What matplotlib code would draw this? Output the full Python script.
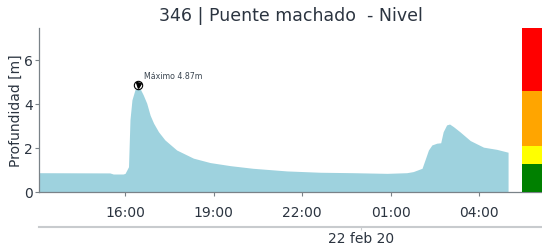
import matplotlib
matplotlib.use('Agg')
import matplotlib.pyplot as plt
import matplotlib.dates as mdates
import pandas as pd

# datos (nivel en metros)
horas = [
    "2020-02-21 13:05", "2020-02-21 15:29", "2020-02-21 15:36", "2020-02-21 15:56",
    "2020-02-21 16:00", "2020-02-21 16:07", "2020-02-21 16:10", "2020-02-21 16:14",
    "2020-02-21 16:20", "2020-02-21 16:27", "2020-02-21 16:37", "2020-02-21 16:44",
    "2020-02-21 16:51", "2020-02-21 16:58", "2020-02-21 17:08", "2020-02-21 17:21",
    "2020-02-21 17:45", "2020-02-21 18:19", "2020-02-21 18:53", "2020-02-21 19:34",
    "2020-02-21 20:20", "2020-02-21 21:29", "2020-02-21 22:37", "2020-02-21 23:44",
    "2020-02-22 00:53", "2020-02-22 01:33", "2020-02-22 01:46", "2020-02-22 02:04",
    "2020-02-22 02:10", "2020-02-22 02:17", "2020-02-22 02:24", "2020-02-22 02:34",
    "2020-02-22 02:42", "2020-02-22 02:47", "2020-02-22 02:54", "2020-02-22 03:00",
    "2020-02-22 03:08", "2020-02-22 03:21", "2020-02-22 03:42", "2020-02-22 04:09",
    "2020-02-22 04:36", "2020-02-22 04:59",
]
nivel = [
    0.89, 0.88, 0.83, 0.83,
    0.86, 1.16, 3.30, 4.20,
    4.65, 4.87, 4.42, 4.05,
    3.50, 3.14, 2.75, 2.38,
    1.92, 1.55, 1.35, 1.21,
    1.09, 0.97, 0.91, 0.89,
    0.86, 0.89, 0.94, 1.09,
    1.47, 1.92, 2.15, 2.23,
    2.25, 2.75, 3.06, 3.10,
    2.98, 2.75, 2.35, 2.05,
    1.95, 1.82,
]

# umbrales de alerta (m)
umbrales = [0, 1.30, 2.12, 4.62, 7.45]
colores_alerta = ['green', 'yellow', 'orange', 'red']

titulo = "346 | Puente machado  - Nivel"
etiqueta_y = "Profundidad [m]"
fecha_ticks = ["2020-02-22 00:00"]
fecha_labels = ["22 feb 20"]
limites_x = ["2020-02-21 13:05", "2020-02-22 06:08"]

texto = '#2b3440'
gris = '#7a8288'

t = pd.to_datetime(horas)
fig = plt.figure(figsize=(5.42, 2.47), dpi=100)
ax = fig.add_axes([0.072, 0.2215, 0.928, 0.664])

ax.fill_between(t, nivel, 0, color='#9ed2de', linewidth=0)

# maximo
imax = nivel.index(max(nivel))
ax.plot(t[imax], nivel[imax], 'o', ms=6, mfc='white', mec='black', mew=0.8, zorder=5)
ax.plot(t[imax], nivel[imax], 'v', ms=3.6, color='black', zorder=6)
ax.annotate(f"Máximo {nivel[imax]:.2f}m", (t[imax], nivel[imax]), xytext=(3.8, 6.3),
            textcoords='offset points', fontsize=5.7, color='#3a4550', va='center')

# barra de alertas
for i, c in enumerate(colores_alerta):
    ax.axhspan(umbrales[i], umbrales[i + 1], xmin=0.961, xmax=1.0, color=c, lw=0, zorder=3)

ax.set_xlim(pd.to_datetime(limites_x))
ax.set_ylim(umbrales[0], umbrales[-1])
ax.set_yticks([0, 2, 4, 6])
ax.xaxis.set_major_locator(mdates.HourLocator(byhour=[1, 4, 7, 10, 13, 16, 19, 22]))
ax.xaxis.set_major_formatter(mdates.DateFormatter('%H:%M'))
ax.tick_params(labelsize=10, colors=gris, labelcolor=texto, length=3, width=0.8)
ax.tick_params(axis='x', pad=7)
ax.tick_params(axis='y', pad=1.5)
for s in ['top', 'right']:
    ax.spines[s].set_visible(False)
for s in ['left', 'bottom']:
    ax.spines[s].set_color(gris)
    ax.spines[s].set_linewidth(0.9)
ax.set_ylabel(etiqueta_y, fontsize=10, color=texto, labelpad=1)
ax.set_title(titulo, fontsize=12.5, color=texto, pad=5)

# eje de fecha
ax2 = fig.add_axes([0.072, 0.082, 0.928, 0.001])
ax2.set_xlim(pd.to_datetime(limites_x))
ax2.set_yticks([])
for s in ['top', 'right', 'left']:
    ax2.spines[s].set_visible(False)
ax2.spines['bottom'].set_color('#c8cbce')
ax2.spines['bottom'].set_linewidth(1.5)
ax2.set_xticks(pd.to_datetime(fecha_ticks))
ax2.set_xticklabels(fecha_labels)
ax2.tick_params(labelsize=10, colors='#c8cbce', labelcolor=texto, length=2, pad=1.5)
ax2.patch.set_visible(False)

fig.savefig('out.png', dpi=100)
